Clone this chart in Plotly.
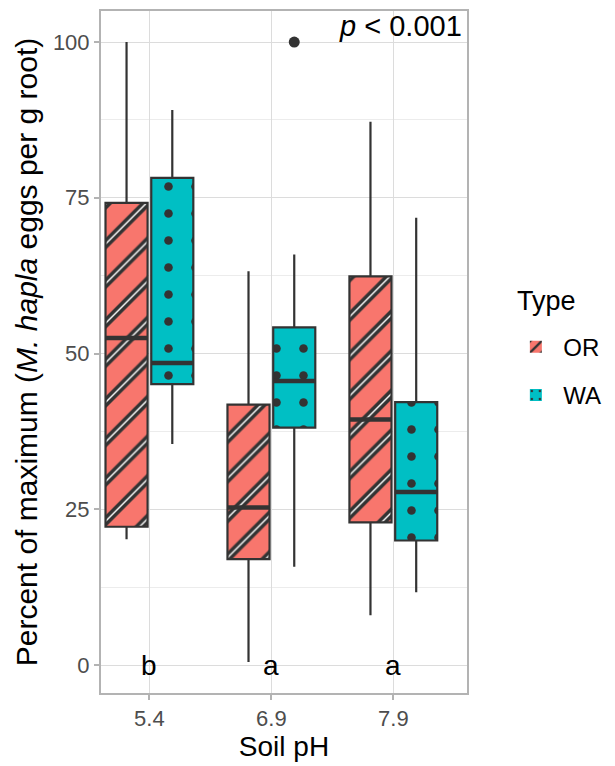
import plotly.graph_objects as go

# ---- data ----
ph_labels = ["5.4", "6.9", "7.9"]
types = ["OR", "WA"]

or_low = [20.2, 0.5, 8.0]
or_q1 = [22.2, 17.0, 22.9]
or_med = [52.5, 25.3, 39.4]
or_q3 = [74.2, 41.8, 62.4]
or_high = [100.0, 63.2, 87.2]

wa_low = [35.5, 15.8, 11.7]
wa_q1 = [45.1, 38.1, 20.0]
wa_med = [48.5, 45.6, 27.8]
wa_q3 = [78.2, 54.2, 42.2]
wa_high = [89.1, 65.9, 71.8]

wa_outlier_cat = [1]
wa_outlier_val = [100.0]

letters = ["b", "a", "a"]
p_text = "<i>p</i> < 0.001"
legend_title = "Type"

# ---- style ----
FONT = "Liberation Sans, Arial"
OR_COL = "#F8766D"
WA_COL = "#00BFC4"
DARK = "#333333"
DODGE = 0.1875
BW = 0.345

cats = list(range(len(ph_labels)))
x_or = [c - DODGE for c in cats]
x_wa = [c + DODGE for c in cats]

fig = go.Figure()

def add_group(name, xs, low, q1, med, q3, high, color, shape, size, solidity, white_overlay):
    fig.add_trace(go.Bar(
        x=xs, y=[b - a for a, b in zip(q1, q3)], base=q1, width=BW,
        name=name, legendgroup=name, opacity=1,
        marker=dict(color=color, line=dict(width=0), opacity=1,
                    pattern=dict(shape=shape, fgcolor=DARK, fgopacity=1,
                                 size=size, solidity=solidity)),
        hoverinfo="skip",
    ))
    if white_overlay:
        fig.add_trace(go.Bar(
            x=xs, y=[b - a for a, b in zip(q1, q3)], base=q1, width=BW,
            showlegend=False, legendgroup=name,
            marker=dict(color="rgba(0,0,0,0)", line=dict(width=0),
                        pattern=dict(shape=shape, fgcolor="white", fgopacity=1,
                                     bgcolor="rgba(0,0,0,0)",
                                     size=size, solidity=0.05)),
            hoverinfo="skip",
        ))
    fig.add_trace(go.Box(
        x=xs, q1=q1, median=med, q3=q3, lowerfence=low, upperfence=high,
        width=BW, whiskerwidth=0, boxpoints=False,
        fillcolor="rgba(0,0,0,0)", line=dict(color=DARK, width=2.2),
        showlegend=False, legendgroup=name, hoverinfo="skip",
    ))
    mx, my = [], []
    for x, m in zip(xs, med):
        mx += [x - BW / 2, x + BW / 2, None]
        my += [m, m, None]
    fig.add_trace(go.Scatter(x=mx, y=my, mode="lines", line=dict(color=DARK, width=4.5),
                             showlegend=False, hoverinfo="skip", legendgroup=name))

add_group("OR", x_or, or_low, or_q1, or_med, or_q3, or_high, OR_COL, "/", 28, 0.3, True)
add_group("WA", x_wa, wa_low, wa_q1, wa_med, wa_q3, wa_high, WA_COL, ".", 27, 0.08, False)

fig.add_trace(go.Scatter(
    x=[c + DODGE for c in wa_outlier_cat], y=wa_outlier_val, mode="markers",
    marker=dict(color=DARK, size=11), showlegend=False, hoverinfo="skip",
))

for c, t in zip(cats, letters):
    fig.add_annotation(x=c, y=0, text=t, showarrow=False,
                       font=dict(size=28, color="black", family=FONT),
                       xanchor="center", yanchor="middle")

fig.add_annotation(x=1, y=1, xref="paper", yref="paper", text=p_text, showarrow=False,
                   xanchor="right", yanchor="top", xshift=-3, yshift=3,
                   font=dict(size=29, color="black", family=FONT))

fig.add_annotation(x=1.13, y=0.5746, xref="paper", yref="paper", text=legend_title,
                   showarrow=False, xanchor="left", yanchor="middle",
                   font=dict(size=27, color="black", family=FONT))

GRID = "#dcdcdc"
BORDER = "#b3b3b3"
fig.update_layout(
    width=615, height=766,
    margin=dict(l=101, r=148, t=9, b=73),
    plot_bgcolor="white", paper_bgcolor="white",
    barmode="overlay",
    font=dict(family=FONT, color="black"),
    legend=dict(
        font=dict(size=24, color="black"),
        x=1.113, xanchor="left", y=0.54, yanchor="top",
        traceorder="grouped", tracegroupgap=14, itemwidth=45,
        bgcolor="rgba(0,0,0,0)",
    ),
    xaxis=dict(
        range=[-0.397, 2.604], tickvals=cats, ticktext=ph_labels,
        showgrid=True, gridcolor=GRID, gridwidth=1.2,
        showline=True, linecolor=BORDER, linewidth=2, mirror=True,
        ticks="outside", ticklen=5, tickcolor=BORDER, tickwidth=1.5,
        tickfont=dict(size=22, color="#4d4d4d"),
        title=dict(text="Soil pH", font=dict(size=28, color="black"), standoff=6),
        zeroline=False,
    ),
    yaxis=dict(
        range=[-4.48, 104.98], tickvals=[0, 25, 50, 75, 100],
        showgrid=True, gridcolor=GRID, gridwidth=1.2,
        minor=dict(tickvals=[12.5, 37.5, 62.5, 87.5], showgrid=True, gridcolor="#ececec", gridwidth=1),
        showline=True, linecolor=BORDER, linewidth=2, mirror=True,
        ticks="outside", ticklen=5, tickcolor=BORDER, tickwidth=1.5,
        tickfont=dict(size=22, color="#4d4d4d"),
        title=dict(text="Percent of maximum (<i>M. hapla</i> eggs per g root)",
                   font=dict(size=30, color="black"), standoff=6),
        zeroline=False,
    ),
)

fig.write_html("out.html")
